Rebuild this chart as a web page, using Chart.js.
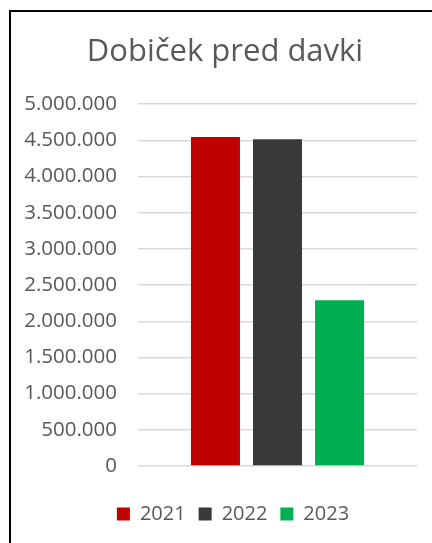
<!DOCTYPE html>
<html lang="sl">
<head>
<meta charset="UTF-8">
<title>Dobiček pred davki</title>
<script src="https://cdn.jsdelivr.net/npm/chart.js"></script>
<style>
  html, body { margin: 0; padding: 0; background: #fff; overflow: hidden; }
  #frame {
    position: absolute; left: 9px; top: 10px;
    width: 430px; height: 540px;
    border-left: 2px solid #000; border-top: 2px solid #000;
    box-sizing: border-box;
  }
  #frame canvas { display: block; }
</style>
</head>
<body>
<div id="frame"><canvas id="chart"></canvas></div>
<script>
// podatki
const categories = [''];
const years = ['2021', '2022', '2023'];
const profit = [4545000, 4515000, 2290000];
const colors = ['#C00000', '#3A3838', '#00B050'];
const yTicks = [0, 500000, 1000000, 1500000, 2000000, 2500000, 3000000, 3500000, 4000000, 4500000, 5000000];

const textGray = '#595959';
const fontFamily = "'Open Sans', sans-serif";

function formatNumber(v) {
    return String(v).replace(/\B(?=(\d{3})+(?!\d))/g, '.');
}

const datasets = years.map((year, i) => ({
    label: year,
    data: [profit[i]],
    backgroundColor: colors[i],
    borderWidth: 0,
    categoryPercentage: 0.667,
    barPercentage: 0.79
}));

// naslov in legenda nista centrirana na isto os kot v Chart.js
const shiftBlocks = {
    id: 'shiftBlocks',
    afterLayout(chart) {
        const t = chart.titleBlock, l = chart.legend;
        t.left += 6; t.right += 6;
        l.left += 14; l.right += 14;
        l.top += 25; l.bottom += 25;
    }
};

const canvas = document.getElementById('chart');
canvas.width = 428;
canvas.height = 538;
canvas.style.width = '428px';
canvas.style.height = '538px';

new Chart(canvas, {
    type: 'bar',
    data: { labels: categories, datasets: datasets },
    plugins: [shiftBlocks],
    options: {
        responsive: false,
        animation: false,
        layout: { padding: { left: 10, right: 22, top: 22, bottom: 41 } },
        plugins: {
            title: {
                display: true,
                text: 'Dobiček pred davki',
                color: textGray,
                font: { family: fontFamily, size: 31, weight: 'normal' },
                padding: { top: 0, bottom: 33 }
            },
            legend: {
                position: 'bottom',
                labels: {
                    color: textGray,
                    font: { family: fontFamily, size: 20 },
                    boxWidth: 13,
                    boxHeight: 13,
                    padding: 13
                }
            },
            tooltip: { enabled: false }
        },
        scales: {
            x: {
                display: false
            },
            y: {
                min: 0,
                max: 5000000,
                afterBuildTicks: (axis) => { axis.ticks = yTicks.map(v => ({ value: v })); },
                afterFit: (axis) => { axis.width = 117; },
                border: { display: false },
                grid: { color: '#D9D9D9', lineWidth: 1.5, drawTicks: false },
                ticks: {
                    color: textGray,
                    font: { family: fontFamily, size: 20.5 },
                    padding: 21,
                    callback: (v) => formatNumber(v)
                }
            }
        }
    }
});
</script>
</body>
</html>
